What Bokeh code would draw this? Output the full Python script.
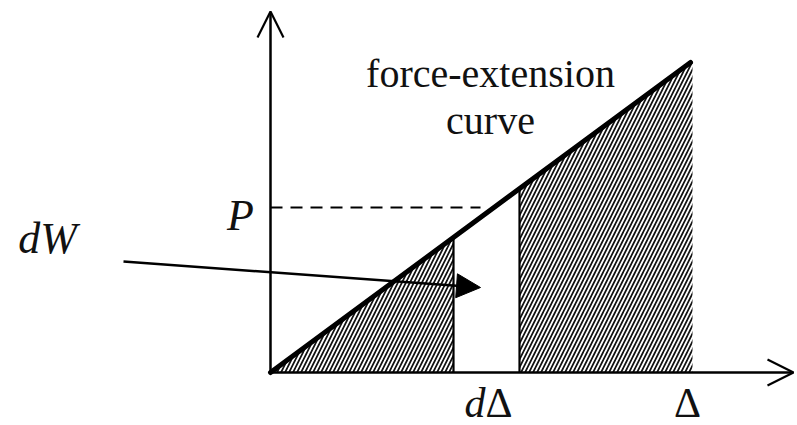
from bokeh.plotting import figure
from bokeh.models import Range1d, Arrow, OpenHead, NormalHead
from bokeh.core.properties import value
from bokeh.embed import file_html
from bokeh.resources import INLINE

# ---- data (diagram units, origin at the axes' corner) ----
curve_x = [0, 420]          # force-extension curve, extension
curve_y = [0, 310]          # force
strip_x = [183, 249]        # the dΔ strip edges
delta_x = 422               # total extension Δ
p_level = 165               # force P
x_axis_end = 523
y_axis_end = 361
dash_end = 210
arrow_start = (-147, 111)
arrow_end = (210, 85)

title_lines = ["force-extension", "curve"]
tick_labels = ["dΔ", "Δ"]

slope = curve_y[1] / curve_x[1]

W, H = 797, 425
p = figure(width=W, height=H, output_backend="svg", toolbar_location=None,
           x_range=Range1d(-270, 527), y_range=Range1d(-53, 372),
           min_border=0)
p.axis.visible = False
p.grid.visible = False
p.outline_line_color = None
p.background_fill_color = "white"
p.border_fill_color = "white"

hatch_kw = dict(fill_alpha=0, line_alpha=0, hatch_pattern="/", hatch_color="#111111",
                hatch_weight=1.7, hatch_scale=8)

# left hatched triangle
p.patch([0, strip_x[0], strip_x[0]], [0, 0, slope * strip_x[0]], **hatch_kw)
# right hatched region
p.patch([strip_x[1], delta_x, delta_x, strip_x[1]],
        [0, 0, slope * delta_x, slope * strip_x[1]], **hatch_kw)

# strip verticals
for sx in strip_x:
    p.line([sx, sx], [0, slope * sx], line_color="black", line_width=2.2)

# dashed P level
p.line([0, dash_end], [p_level, p_level], line_color="black", line_width=2,
       line_dash="12 8")

# curve
p.line(curve_x, curve_y, line_color="black", line_width=5, line_cap="round")

# axes with open arrowheads
p.add_layout(Arrow(end=OpenHead(size=26, line_width=2.2, line_color="black"),
                   x_start=0, y_start=0, x_end=x_axis_end, y_end=0,
                   line_width=2.5, line_color="black"))
p.add_layout(Arrow(end=OpenHead(size=26, line_width=2.2, line_color="black"),
                   x_start=0, y_start=0, x_end=0, y_end=y_axis_end,
                   line_width=2.5, line_color="black"))

# dW pointer arrow
p.add_layout(Arrow(end=NormalHead(size=24, fill_color="black", line_color="black"),
                   x_start=arrow_start[0], y_start=arrow_start[1],
                   x_end=arrow_end[0], y_end=arrow_end[1],
                   line_width=2.5, line_color="black"))

serif = value("Liberation Serif")
DY = 15  # baseline correction

# curve label
p.text(x=[220, 220], y=[284 + DY, 237 + DY], text=title_lines, text_font=serif,
       text_font_size="40px", text_align="center", text_baseline="alphabetic",
       text_color="#111111")

# P and dW labels
p.text(x=[-30], y=[142 + DY], text=["P"], text_font=serif, text_font_style="italic",
       text_font_size="44px", text_align="center", text_baseline="alphabetic",
       text_color="#111111")
p.text(x=[-223], y=[119 + DY], text=["dW"], text_font=serif, text_font_style="italic",
       text_font_size="44px", text_align="center", text_baseline="alphabetic",
       text_color="#111111")

# x labels
ly = -45 + DY
p.text(x=[215], y=[ly], text=[tick_labels[0][0]], text_font=serif,
       text_font_style="italic", text_font_size="42px", text_align="right",
       text_baseline="alphabetic", text_color="#111111")
p.text(x=[215], y=[ly], text=[tick_labels[0][1]], text_font=serif,
       text_font_size="42px", text_align="left", text_baseline="alphabetic",
       text_color="#111111")
p.text(x=[delta_x - 5], y=[ly], text=[tick_labels[1]], text_font=serif,
       text_font_size="42px", text_align="center", text_baseline="alphabetic",
       text_color="#111111")

open("out.html", "w").write(file_html(p, INLINE))
